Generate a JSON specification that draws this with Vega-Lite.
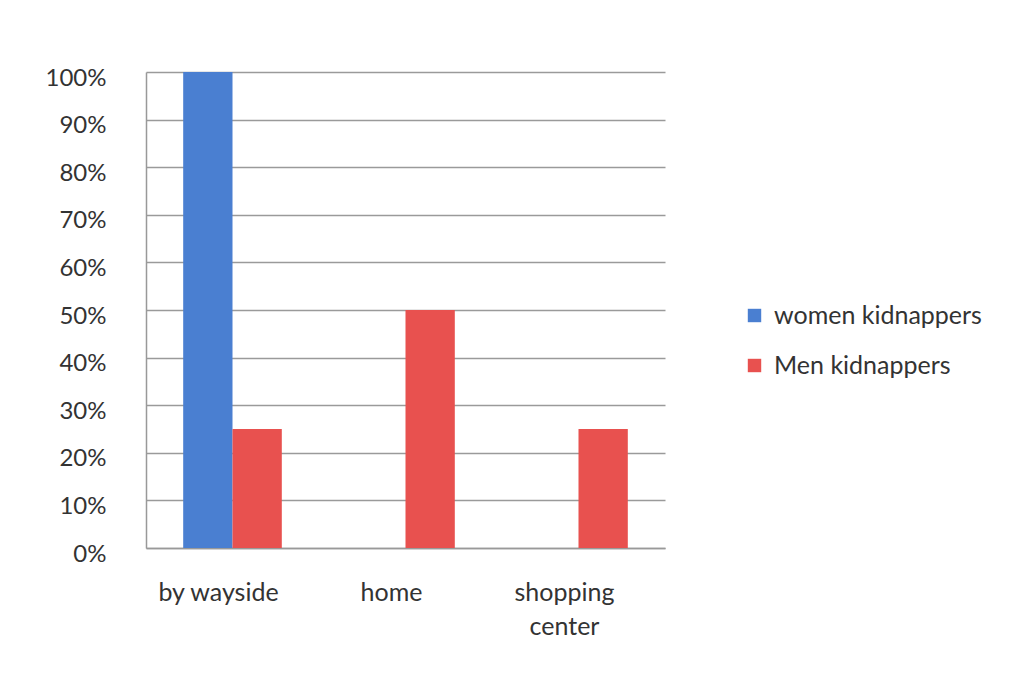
{
  "$schema": "https://vega.github.io/schema/vega-lite/v6.json",
  "autosize": {"type": "none"},
  "padding": {"left": 146, "top": 72, "right": 349, "bottom": 126},
  "width": 519,
  "height": 476,
  "background": "white",
  "config": {
    "font": "Lato",
    "view": {"stroke": null},
    "axis": {"labelFont": "Lato", "labelColor": "#333333", "labelFontSize": 24}
  },
  "data": {
    "values": [
      {"location": "by wayside", "group": "women kidnappers", "share": 1.0},
      {"location": "by wayside", "group": "Men kidnappers", "share": 0.25},
      {"location": "home", "group": "women kidnappers", "share": 0},
      {"location": "home", "group": "Men kidnappers", "share": 0.5},
      {"location": "shopping center", "group": "women kidnappers", "share": 0},
      {"location": "shopping center", "group": "Men kidnappers", "share": 0.25}
    ]
  },
  "mark": {"type": "bar"},
  "encoding": {
    "x": {
      "field": "location",
      "type": "nominal",
      "sort": ["by wayside", "home", "shopping center"],
      "scale": {"paddingInner": 0.43, "paddingOuter": 0.215},
      "axis": {
        "title": null,
        "labelAngle": 0,
        "ticks": false,
        "labelPadding": 32,
        "domainColor": "#999999",
        "domainWidth": 1.5,
        "labelExpr": "datum.value == 'shopping center' ? ['shopping', 'center'] : datum.value",
        "labelLineHeight": 34,
        "labelOverlap": false,
        "labelOffset": -14,
        "labelFontSize": 25
      }
    },
    "xOffset": {
      "field": "group",
      "type": "nominal",
      "sort": ["women kidnappers", "Men kidnappers"]
    },
    "y": {
      "field": "share",
      "type": "quantitative",
      "scale": {"domain": [0, 1]},
      "axis": {
        "title": null,
        "format": ".0%",
        "values": [0, 0.1, 0.2, 0.3, 0.4, 0.5, 0.6, 0.7, 0.8, 0.9, 1.0],
        "ticks": false,
        "labelPadding": 40,
        "labelOverlap": false,
        "labelFlush": false,
        "labelOffset": 6,
        "labelFontSize": 24,
        "gridColor": "#9a9a9a",
        "gridWidth": 1.5,
        "domainColor": "#999999",
        "domainWidth": 1.5
      }
    },
    "color": {
      "field": "group",
      "type": "nominal",
      "sort": ["women kidnappers", "Men kidnappers"],
      "scale": {"domain": ["women kidnappers", "Men kidnappers"], "range": ["#4a7fd1", "#e8514f"]},
      "legend": {
        "title": null,
        "orient": "none",
        "legendX": 596,
        "legendY": 231,
        "symbolType": "square",
        "symbolSize": 180,
        "symbolStrokeWidth": 0,
        "labelFontSize": 25,
        "labelLimit": 300,
        "labelColor": "#333333",
        "labelFont": "Lato",
        "rowPadding": 24,
        "labelOffset": 7
      }
    }
  }
}
